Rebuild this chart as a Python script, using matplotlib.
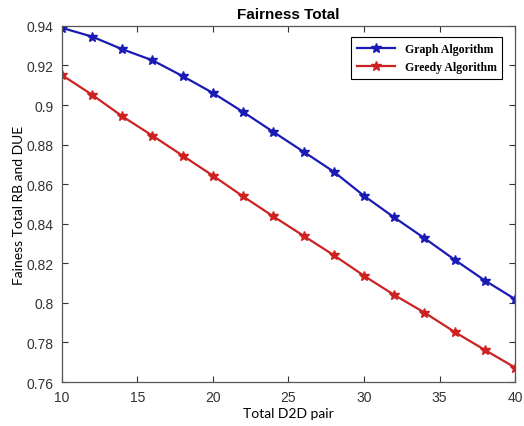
import numpy as np
import matplotlib
matplotlib.use("Agg")
import matplotlib.pyplot as plt

# total D2D pairs
d2d_pairs = [10, 12, 14, 16, 18, 20, 22, 24, 26, 28, 30, 32, 34, 36, 38, 40]

# fairness values
graph_alg = [0.9390, 0.9346, 0.9282, 0.9226, 0.9146, 0.9061, 0.8965, 0.8864,
             0.8764, 0.8663, 0.8541, 0.8432, 0.8327, 0.8218, 0.8113, 0.8019]
greedy_alg = [0.9152, 0.9052, 0.8943, 0.8845, 0.8744, 0.8643, 0.8538, 0.8437,
              0.8339, 0.8241, 0.8137, 0.8040, 0.7951, 0.7853, 0.7762, 0.7673]

series_names = ["Graph Algorithm", "Greedy Algorithm"]
x_ticks = [10, 15, 20, 25, 30, 35, 40]
y_ticks = [0.76, 0.78, 0.8, 0.82, 0.84, 0.86, 0.88, 0.9, 0.92, 0.94]
y_ticklabels = ["0.76", "0.78", "0.8", "0.82", "0.84", "0.86", "0.88", "0.9", "0.92", "0.94"]

plt.rcParams['font.family'] = ['Liberation Sans', 'DejaVu Sans']

fig = plt.figure(figsize=(5.24, 4.27), dpi=100)
ax = fig.add_axes([0.118, 0.103, 0.865, 0.834])

ax.plot(d2d_pairs, graph_alg, color='#1a1ab4', marker='*', markersize=7,
        linewidth=1.6, label=series_names[0])
ax.plot(d2d_pairs, greedy_alg, color='#cc2222', marker='*', markersize=7,
        linewidth=1.6, label=series_names[1])

ax.set_xlim(10, 40)
ax.set_ylim(0.76, 0.94)
ax.set_xticks(x_ticks)
ax.set_yticks(y_ticks)
ax.set_yticklabels(y_ticklabels)
ax.tick_params(direction='in', top=True, right=True, labelsize=10,
               colors='#333333', length=4, width=0.8, pad=6)
for sp in ax.spines.values():
    sp.set_color('#555555')
    sp.set_linewidth(0.9)

ax.set_title("Fairness Total", fontsize=11, fontweight='bold', pad=6)
ax.set_xlabel("Total D2D pair", fontsize=10, family=['Lato', 'DejaVu Sans'],
              labelpad=2)
ax.set_ylabel("Fainess Total RB and DUE", fontsize=10, family=['Lato', 'DejaVu Sans'],
              labelpad=1)

leg = ax.legend(loc='upper right', bbox_to_anchor=(0.985, 0.985),
                prop={'family': 'Liberation Serif', 'weight': 'bold', 'size': 8.5},
                fancybox=False, edgecolor='black', framealpha=1,
                handlelength=3.2, borderpad=0.5, labelspacing=0.5)
leg.get_frame().set_linewidth(0.8)

fig.savefig("out.png", dpi=100)
